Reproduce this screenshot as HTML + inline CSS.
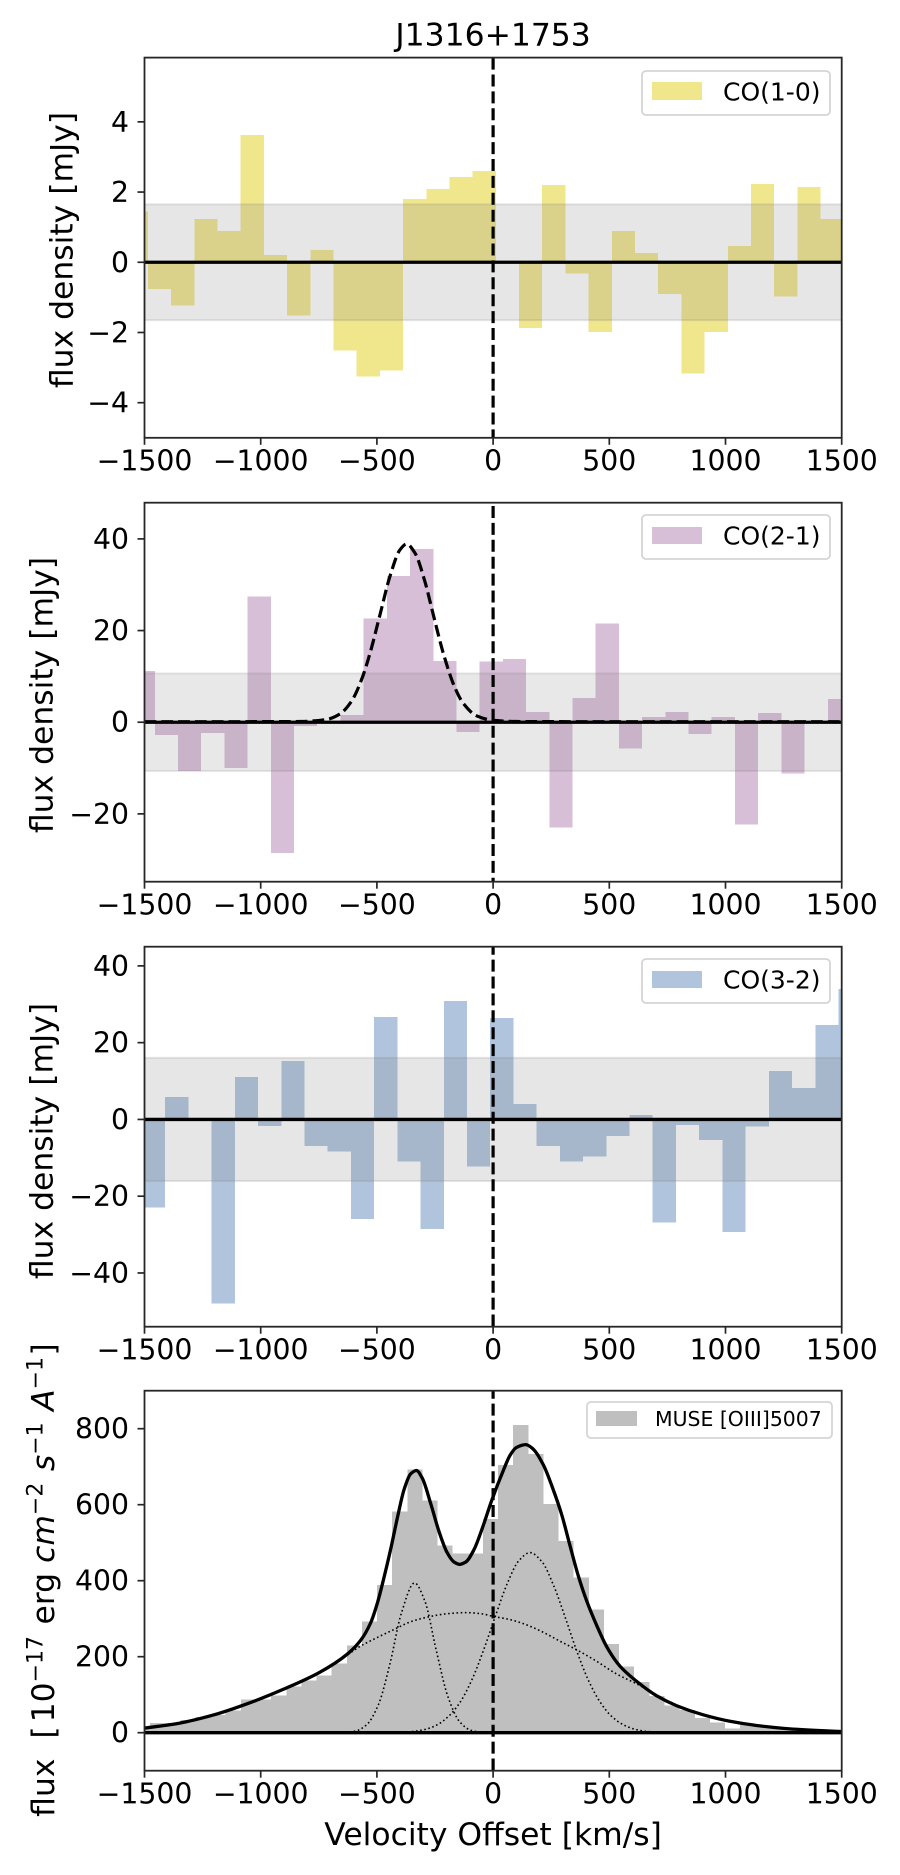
<!DOCTYPE html>
<html lang="en">
<head>
<meta charset="utf-8">
<title>J1316+1753 spectra</title>
<style>
html,body{margin:0;padding:0;background:#fff;width:900px;height:1875px;overflow:hidden}
svg{display:block}
text{font-family:"DejaVu Sans","Liberation Sans",sans-serif;fill:#000}
.tick{font-size:28.3px}
.lab{font-size:31.4px}
</style>
</head>
<body>
<svg id="fig" xmlns="http://www.w3.org/2000/svg" width="900" height="1875" viewBox="0 0 900 1875">
  <rect x="0" y="0" width="900" height="1875" fill="#fff"/>
  <g id="p1"></g>
  <g id="p2"></g>
  <g id="p3"></g>
  <g id="p4"></g>

  <text class="lab" x="493.1" y="45.7" text-anchor="middle">J1316+1753</text>
  <text class="lab" x="493.1" y="1845" text-anchor="middle">Velocity Offset [km/s]</text>

  <text class="lab" transform="translate(72.6,250) rotate(-90)" text-anchor="middle">flux density [mJy]</text>
  <text class="lab" transform="translate(52.6,695) rotate(-90)" text-anchor="middle">flux density [mJy]</text>
  <text class="lab" transform="translate(52.6,1141) rotate(-90)" text-anchor="middle">flux density [mJy]</text>
  <text class="lab" transform="translate(54,1580) rotate(-90)" text-anchor="middle" xml:space="preserve">flux  [<tspan dx="4">10</tspan><tspan font-size="22" dy="-11.6">−17</tspan><tspan dy="11.6" dx="1.5"> erg </tspan><tspan font-style="italic">cm</tspan><tspan font-size="22" dy="-11.6">−2</tspan><tspan dy="11.6" dx="1.5"> </tspan><tspan font-style="italic">s</tspan><tspan font-size="22" dy="-11.6">−1</tspan><tspan dy="11.6" dx="1.5"> </tspan><tspan font-style="italic">A</tspan><tspan font-size="22" dy="-11.6">−1</tspan><tspan dy="11.6" dx="1.5">]</tspan></text>

  <g>
    <rect x="642" y="71" width="188" height="44" rx="4" fill="#fff" fill-opacity="0.8" stroke="#d5d5d5" stroke-width="1.8"/>
    <rect x="652" y="82" width="50" height="18" fill="#f0e68c"/>
    <text x="723" y="100.5" font-size="25">CO(1-0)</text>
  </g>
  <g>
    <rect x="642" y="515" width="188" height="44" rx="4" fill="#fff" fill-opacity="0.8" stroke="#d5d5d5" stroke-width="1.8"/>
    <rect x="652" y="527" width="50" height="17" fill="#d8bfd8"/>
    <text x="723" y="544.5" font-size="25">CO(2-1)</text>
  </g>
  <g>
    <rect x="642" y="959" width="188" height="44" rx="4" fill="#fff" fill-opacity="0.8" stroke="#d5d5d5" stroke-width="1.8"/>
    <rect x="652" y="971" width="50" height="17" fill="#b0c4de"/>
    <text x="723" y="988.5" font-size="25">CO(3-2)</text>
  </g>
  <g>
    <rect x="587" y="1402" width="245" height="36" rx="4" fill="#fff" fill-opacity="0.8" stroke="#d5d5d5" stroke-width="1.8"/>
    <rect x="596" y="1411" width="41" height="15" fill="#bfbfbf"/>
    <text x="655" y="1426" font-size="20.4">MUSE [OIII]5007</text>
  </g>
</svg>

<script>
// ---------- shared axis data ----------
const velocityLimits = [-1500, 1500];
const velocityTicks = [-1500, -1000, -500, 0, 500, 1000, 1500];

// ---------- CO(1-0) ----------
const co10FirstEdge = -1585;
const co10BinWidth = 99.8;
const co10Values = [1.44,-0.76,-1.23,1.23,0.89,3.63,0.21,-1.52,0.35,-2.52,-3.26,-3.09,1.80,2.09,2.43,2.60,0,-1.87,2.20,-0.32,-1.98,0.89,0.26,-0.90,-3.17,-1.98,0.47,2.23,-0.98,2.15,1.23];
const co10Limits = [-5, 5.83];
const co10Ticks = [-4, -2, 0, 2, 4];
const co10Noise = 1.65;

// ---------- CO(2-1) ----------
const co21FirstEdge = -1555.5;
const co21BinWidth = 99.85;
const co21Values = [11.2,-2.77,-10.6,-2.33,-9.97,27.4,-28.5,-0.8,0.1,1.6,22.6,31.9,37.8,13.4,-2.1,13.2,13.8,2.26,-23.0,5.3,21.5,-5.75,1.16,2.26,-2.55,1.16,-22.3,2.04,-11.2,0,5.1];
const co21Limits = [-34.8, 47.9];
const co21Ticks = [-20, 0, 20, 40];
const co21Noise = 10.65;
const co21FitVelocity = [-1500,-1100,-831,-716,-659,-609,-566,-530,-487,-444,-401,-372,-336,-293,-257,-214,-164,-128,-71,1,101,400,800,1200,1500];
const co21FitValue = [0.12,0.12,0.15,0.6,1.8,4.6,9.3,15.0,23.4,31.8,37.6,38.9,36.9,30.6,23.4,15.0,7.5,4.1,1.4,0.4,0.15,0.12,0.12,0.12,0.12];

// ---------- CO(3-2) ----------
const co32FirstEdge = -1510.9;
const co32BinWidth = 99.9;
const co32Values = [-23.0,5.8,0.1,-48.0,11.0,-1.65,15.2,-6.9,-8.4,-25.9,26.7,-11.0,-28.5,30.8,-12.3,26.4,4.0,-6.9,-11.0,-9.7,-4.3,1.1,-26.9,-1.5,-5.4,-29.3,-1.9,12.6,8.2,24.6,34.0];
const co32Limits = [-54, 45];
const co32Ticks = [-40, -20, 0, 20, 40];
const co32Noise = 16.05;

// ---------- MUSE [OIII] ----------
const museFirstEdge = -1541;
const museBinWidth = 65.1;
const museValues = [12,26,26,33,41,47,59,87,87,98,122,137,150,182,229,292,389,582,692,611,492,471,471,562,705,810,734,602,505,408,324,234,174,134,96,71,60,39,27,10.5,21,17,12,8,6,5,3];
const museLimits = [-100, 900];
const museTicks = [0, 200, 400, 600, 800];
const totalVelocity = [-1500,-1351,-1201,-1050,-900,-749,-627,-570,-527,-498,-470,-441,-412,-383,-355,-330,-305,-269,-233,-197,-168,-144,-118,-82,-46,-5,44,73,99,141,173,216,259,295,331,367,402,446,489,546,618,704,790,904,1019,1134,1277,1500];
const totalValue = [12,25,47,78,115,158,207,243,289,341,407,482,565,640,681,690,670,604,530,473,449,443,449,482,539,613,690,730,750,758,746,705,639,574,492,412,348,282,226,175,135,97,71,47,30,19,10,3];
const broadVelocity = [-1500,-1351,-1201,-1050,-900,-749,-627,-570,-500,-432,-350,-276,-200,-115,-50,0,70,130,210,290,360,440,530,632,704,790,904,1019,1134,1277,1500];
const broadValue = [12,25,47,78,115,158,205,228,250,270,293,305,313,316,313,306,298,287,266,240,218,190,155,124,97,71,47,30,19,10,3];
const blueVelocity = [-744,-694,-644,-594,-544,-494,-444,-394,-338,-294,-244,-194,-144,-94,-44,6];
const blueValue = [0,0.2,1,4,21,73,181,316,394,347,215,94,29,6,1,0];
const redVelocity = [-440,-390,-340,-290,-240,-190,-140,-90,-40,10,60,110,159,210,260,310,360,410,460,510,560,610,660,710,760];
const redValue = [0.4,1.3,3.7,9,21,44,82,141,219,307,391,452,474,450,388,304,215,138,81,43,21,9,3.5,1.2,0.3];

// ---------- layout ----------
const axLeft = 144.5, axRight = 841.7;
const svgNS = 'http://www.w3.org/2000/svg';
const fig = document.getElementById('fig');
const xScale = function (v) {
  return axLeft + (v - velocityLimits[0]) * (axRight - axLeft) / (velocityLimits[1] - velocityLimits[0]);
};
function makeYScale(lim, top, bottom) {
  return function (val) { return bottom - (val - lim[0]) * (bottom - top) / (lim[1] - lim[0]); };
}
function mk(tag, attrs, parent) {
  const n = document.createElementNS(svgNS, tag);
  for (const k in attrs) n.setAttribute(k, attrs[k]);
  parent.appendChild(n);
  return n;
}
function fmt(n) { return String(n).replace('-', '\u2212'); }

// monotone cubic path through the read points
function curvePath(vs, ys, yScale) {
  const X = vs.map(xScale), Y = ys.map(yScale), n = X.length, s = [], m = [];
  for (let i = 0; i < n - 1; i++) s.push((Y[i + 1] - Y[i]) / (X[i + 1] - X[i]));
  m.push(s[0]);
  for (let i = 1; i < n - 1; i++) {
    if (s[i - 1] * s[i] <= 0) { m.push(0); continue; }
    const a = X[i] - X[i - 1], b = X[i + 1] - X[i];
    m.push((a + b) * 3 / ((2 * b + a) / s[i - 1] + (b + 2 * a) / s[i]));
  }
  m.push(s[n - 2]);
  let d = 'M' + X[0].toFixed(2) + ' ' + Y[0].toFixed(2);
  for (let i = 0; i < n - 1; i++) {
    const h = (X[i + 1] - X[i]) / 3;
    d += 'C' + (X[i] + h).toFixed(2) + ' ' + (Y[i] + m[i] * h).toFixed(2) + ' ' +
         (X[i + 1] - h).toFixed(2) + ' ' + (Y[i + 1] - m[i + 1] * h).toFixed(2) + ' ' +
         X[i + 1].toFixed(2) + ' ' + Y[i + 1].toFixed(2);
  }
  return d;
}

function drawBars(host, values, firstEdge, binWidth, color, yScale) {
  const zeroY = yScale(0);
  values.forEach(function (val, i) {
    const x0 = xScale(firstEdge + i * binWidth), x1 = xScale(firstEdge + (i + 1) * binWidth);
    const yv = yScale(val);
    const bar = mk('rect', {
      x: x0, width: x1 - x0, y: Math.min(yv, zeroY), height: Math.abs(yv - zeroY),
      fill: color, 'shape-rendering': 'crispEdges'
    }, host);
    
    
  });
}

function drawBand(host, noise, opacity, yScale) {
  const band = mk('rect', {
    x: axLeft - 3, width: axRight - axLeft + 6, y: yScale(noise), height: yScale(-noise) - yScale(noise),
    fill: '#808080', 'fill-opacity': opacity, stroke: '#808080', 'stroke-opacity': opacity, 'stroke-width': 2
  }, host);
  
  
}

function drawAxes(host, ticks, yScale, top, bottom, dashPhase) {
  const zero = mk('line', { x1: axLeft, x2: axRight, y1: yScale(0), y2: yScale(0), stroke: '#000', 'stroke-width': 3.3 }, host);
  
  

  const sys = mk('line', { x1: xScale(0), x2: xScale(0), y1: top, y2: bottom, stroke: '#000', 'stroke-width': 3.2, 'stroke-dasharray': '12 4.9', 'stroke-dashoffset': dashPhase }, host);
  
  

  const frame = mk('rect', { x: axLeft, y: top, width: axRight - axLeft, height: bottom - top, fill: 'none', stroke: '#262626', 'stroke-width': 1.8 }, host);
  
  

  velocityTicks.forEach(function (t) {
    const x = xScale(t);
    const mark = mk('line', { x1: x, x2: x, y1: bottom, y2: bottom + 7, stroke: '#262626', 'stroke-width': 1.7 }, host);
    
    
    const lab = mk('text', { class: 'tick', x: x, y: bottom + 32.8, 'text-anchor': 'middle' }, host);
    lab.textContent = fmt(t);
    
    
  });
  ticks.forEach(function (t) {
    const y = yScale(t);
    const mark = mk('line', { x1: axLeft - 7, x2: axLeft, y1: y, y2: y, stroke: '#262626', 'stroke-width': 1.7 }, host);
    
    
    const lab = mk('text', { class: 'tick', x: 129, y: y + 10, 'text-anchor': 'end' }, host);
    lab.textContent = fmt(t);
    
    
  });
}

function makeClip(host, id, top, bottom) {
  const cp = mk('clipPath', { id: id }, host);
  mk('rect', { x: axLeft, y: top, width: axRight - axLeft, height: bottom - top }, cp);
  return mk('g', { 'clip-path': 'url(#' + id + ')' }, host);
}

function drawCurve(host, vs, ys, yScale, name, width, dash) {
  const attrs = { d: curvePath(vs, ys, yScale), fill: 'none', stroke: '#000', 'stroke-width': width };
  if (dash) attrs['stroke-dasharray'] = dash;
  const path = mk('path', attrs, host);
  
  
}

// ---------- panel 1 ----------
(function () {
  const host = document.getElementById('p1'), top = 57.6, bottom = 437.8;
  const yScale = makeYScale(co10Limits, top, bottom);
  const g = makeClip(host, 'clip1', top, bottom);
  drawBars(g, co10Values, co10FirstEdge, co10BinWidth, '#f0e68c', yScale);
  drawBand(g, co10Noise, 0.2, yScale);
  drawAxes(host, co10Ticks, yScale, top, bottom, 0);
})();

// ---------- panel 2 ----------
(function () {
  const host = document.getElementById('p2'), top = 502.7, bottom = 881.7;
  const yScale = makeYScale(co21Limits, top, bottom);
  const g = makeClip(host, 'clip2', top, bottom);
  drawBars(g, co21Values, co21FirstEdge, co21BinWidth, '#d8bfd8', yScale);
  drawBand(g, co21Noise, 0.18, yScale);
  drawCurve(g, co21FitVelocity, co21FitValue, yScale, 'co21-gaussian-fit', 3.2, '11.8 5');
  drawAxes(host, co21Ticks, yScale, top, bottom, 13.6);
})();

// ---------- panel 3 ----------
(function () {
  const host = document.getElementById('p3'), top = 946.7, bottom = 1326.7;
  const yScale = makeYScale(co32Limits, top, bottom);
  const g = makeClip(host, 'clip3', top, bottom);
  drawBars(g, co32Values, co32FirstEdge, co32BinWidth, '#b0c4de', yScale);
  drawBand(g, co32Noise, 0.2, yScale);
  drawAxes(host, co32Ticks, yScale, top, bottom, 4);
})();

// ---------- panel 4 ----------
(function () {
  const host = document.getElementById('p4'), top = 1390.7, bottom = 1770.7;
  const yScale = makeYScale(museLimits, top, bottom);
  const g = makeClip(host, 'clip4', top, bottom);
  drawBars(g, museValues, museFirstEdge, museBinWidth, '#bfbfbf', yScale);
  drawCurve(g, broadVelocity, broadValue, yScale, 'broad-component', 1.6, '1.6 2.6');
  drawCurve(g, blueVelocity, blueValue, yScale, 'blue-component', 1.6, '1.6 2.6');
  drawCurve(g, redVelocity, redValue, yScale, 'red-component', 1.6, '1.6 2.6');
  drawCurve(g, totalVelocity, totalValue, yScale, 'total-fit', 3.3, null);
  drawAxes(host, museTicks, yScale, top, bottom, 4);
})();
</script>
</body>
</html>
